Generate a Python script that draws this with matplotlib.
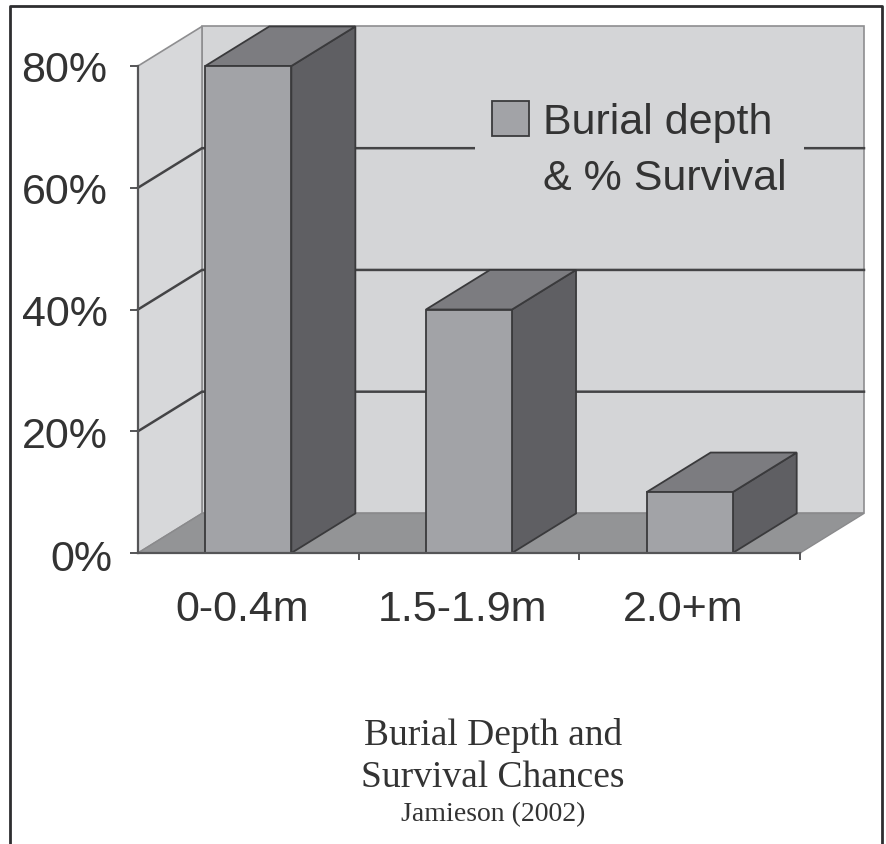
import matplotlib.pyplot as plt
from matplotlib.patches import Polygon, Patch
from matplotlib.lines import Line2D
from matplotlib.transforms import ScaledTranslation

categories = ['0-0.4m', '1.5-1.9m', '2.0+m']
survival = [80, 40, 10]
yticks = [0, 20, 40, 60, 80]
series_label = ['Burial depth', '& % Survival']
caption = ['Burial Depth and', 'Survival Chances']
source = 'Jamieson (2002)'

# oblique depth of the 3-D box, in data units (categories, percent)
ddx, ddy = 0.29, 6.5
bar_w = 0.39
ymax = yticks[-1]
n = len(categories)

front_c = '#a2a3a7'
side_c = '#5f5f63'
top_c = '#7c7c80'
wall_c = '#d4d5d7'
floor_c = '#939496'
edge_c = '#3a3a3c'
text_c = '#333333'

plt.rcParams['font.family'] = ['Liberation Sans', 'DejaVu Sans']

fig = plt.figure(figsize=(8.87, 8.45), dpi=100)
fig.patch.set_facecolor('white')
W, H = 887, 845
ax = fig.add_axes([138 / W, 1 - 554 / H, 662 / W, 487 / H])
ax.set_xlim(0, n)
ax.set_ylim(0, ymax)
ax.patch.set_visible(False)


def poly(pts, fc, ec, lw=1.0, z=1):
    ax.add_patch(Polygon(pts, closed=True, facecolor=fc, edgecolor=ec,
                         linewidth=lw, zorder=z, clip_on=False,
                         joinstyle='miter'))


# walls and floor
poly([(ddx, ddy), (n + ddx, ddy), (n + ddx, ymax + ddy), (ddx, ymax + ddy)],
     wall_c, '#8e8e90', 1.2, 1)
poly([(0, 0), (0, ymax), (ddx, ymax + ddy), (ddx, ddy)],
     '#d7d8da', '#8e8e90', 1.2, 1)
poly([(0, 0), (n, 0), (n + ddx, ddy), (ddx, ddy)], floor_c, '#8a8a8c', 1.0, 2)

# gridlines on the left and back walls
for v in yticks[1:-1]:
    ax.plot([0, ddx, n + ddx], [v, v + ddy, v + ddy], color='#444446',
            lw=1.8, zorder=3, clip_on=False, solid_joinstyle='miter')

# 3-D columns
for i, val in enumerate(survival):
    x0 = i + 0.5 - bar_w / 2
    x1 = i + 0.5 + bar_w / 2
    poly([(x1, 0), (x1 + ddx, ddy), (x1 + ddx, val + ddy), (x1, val)],
         side_c, edge_c, 1.3, 4)
    poly([(x0, val), (x1, val), (x1 + ddx, val + ddy), (x0 + ddx, val + ddy)],
         top_c, edge_c, 1.3, 4)
    poly([(x0, 0), (x1, 0), (x1, val), (x0, val)], front_c, edge_c, 1.3, 5)

# axes
for s in ['top', 'right']:
    ax.spines[s].set_visible(False)
for s in ['left', 'bottom']:
    ax.spines[s].set_color('#555557')
    ax.spines[s].set_linewidth(1.6)
    ax.spines[s].set_zorder(6)

ax.set_yticks(yticks)
ax.set_yticklabels([f'{v}%' for v in yticks])
ax.tick_params(axis='y', length=6, width=1.4, color='#555557', pad=16,
               labelsize=31, labelcolor=text_c)
zero_lab = ax.get_yticklabels()[0]
zero_lab.set_transform(zero_lab.get_transform() +
                       ScaledTranslation(0.05, -0.02, fig.dpi_scale_trans))

ax.set_xticks(range(1, n + 1))
ax.set_xticklabels([])
ax.tick_params(axis='x', which='major', length=5, width=1.4, color='#555557')
ax.set_xticks([i + 0.47 for i in range(n)], minor=True)
ax.set_xticklabels(categories, minor=True)
ax.tick_params(axis='x', which='minor', length=0, pad=26, labelsize=31,
               labelcolor=text_c)

# legend: square on the first line, second line of text below it
handles = [Patch(facecolor=front_c, edgecolor=edge_c, lw=1.3),
           Patch(facecolor='none', edgecolor='none')]
leg = ax.legend(handles=handles, labels=series_label, loc='upper left',
                bbox_to_anchor=(475 / W, 1 - 85 / H),
                bbox_transform=fig.transFigure, fontsize=31, frameon=True,
                facecolor=wall_c, edgecolor='none', framealpha=1,
                fancybox=False, borderpad=0.4, borderaxespad=0,
                labelspacing=0.34, handlelength=0.85, handleheight=0.85,
                handletextpad=0.33, labelcolor=text_c)
leg.set_zorder(7)

# caption below the chart
cap_font = ['Liberation Serif', 'DejaVu Serif']
fig.text(493 / W, 1 - 736 / H, caption[0], ha='center', va='center',
         fontsize=27, family=cap_font, color=text_c)
fig.text(493 / W, 1 - 778 / H, caption[1], ha='center', va='center',
         fontsize=27, family=cap_font, color=text_c)
fig.text(493 / W, 1 - 815 / H, source, ha='center', va='center',
         fontsize=20, family=cap_font, color=text_c)

# outer frame, open at the bottom
frame = dict(color='#2e2e30', lw=2.0, transform=fig.transFigure)
fig.add_artist(Line2D([10 / W, 10 / W, 882 / W, 882 / W],
                      [0, 1 - 7 / H, 1 - 7 / H, 0], **frame))

fig.savefig('out.png', dpi=100, facecolor='white')
